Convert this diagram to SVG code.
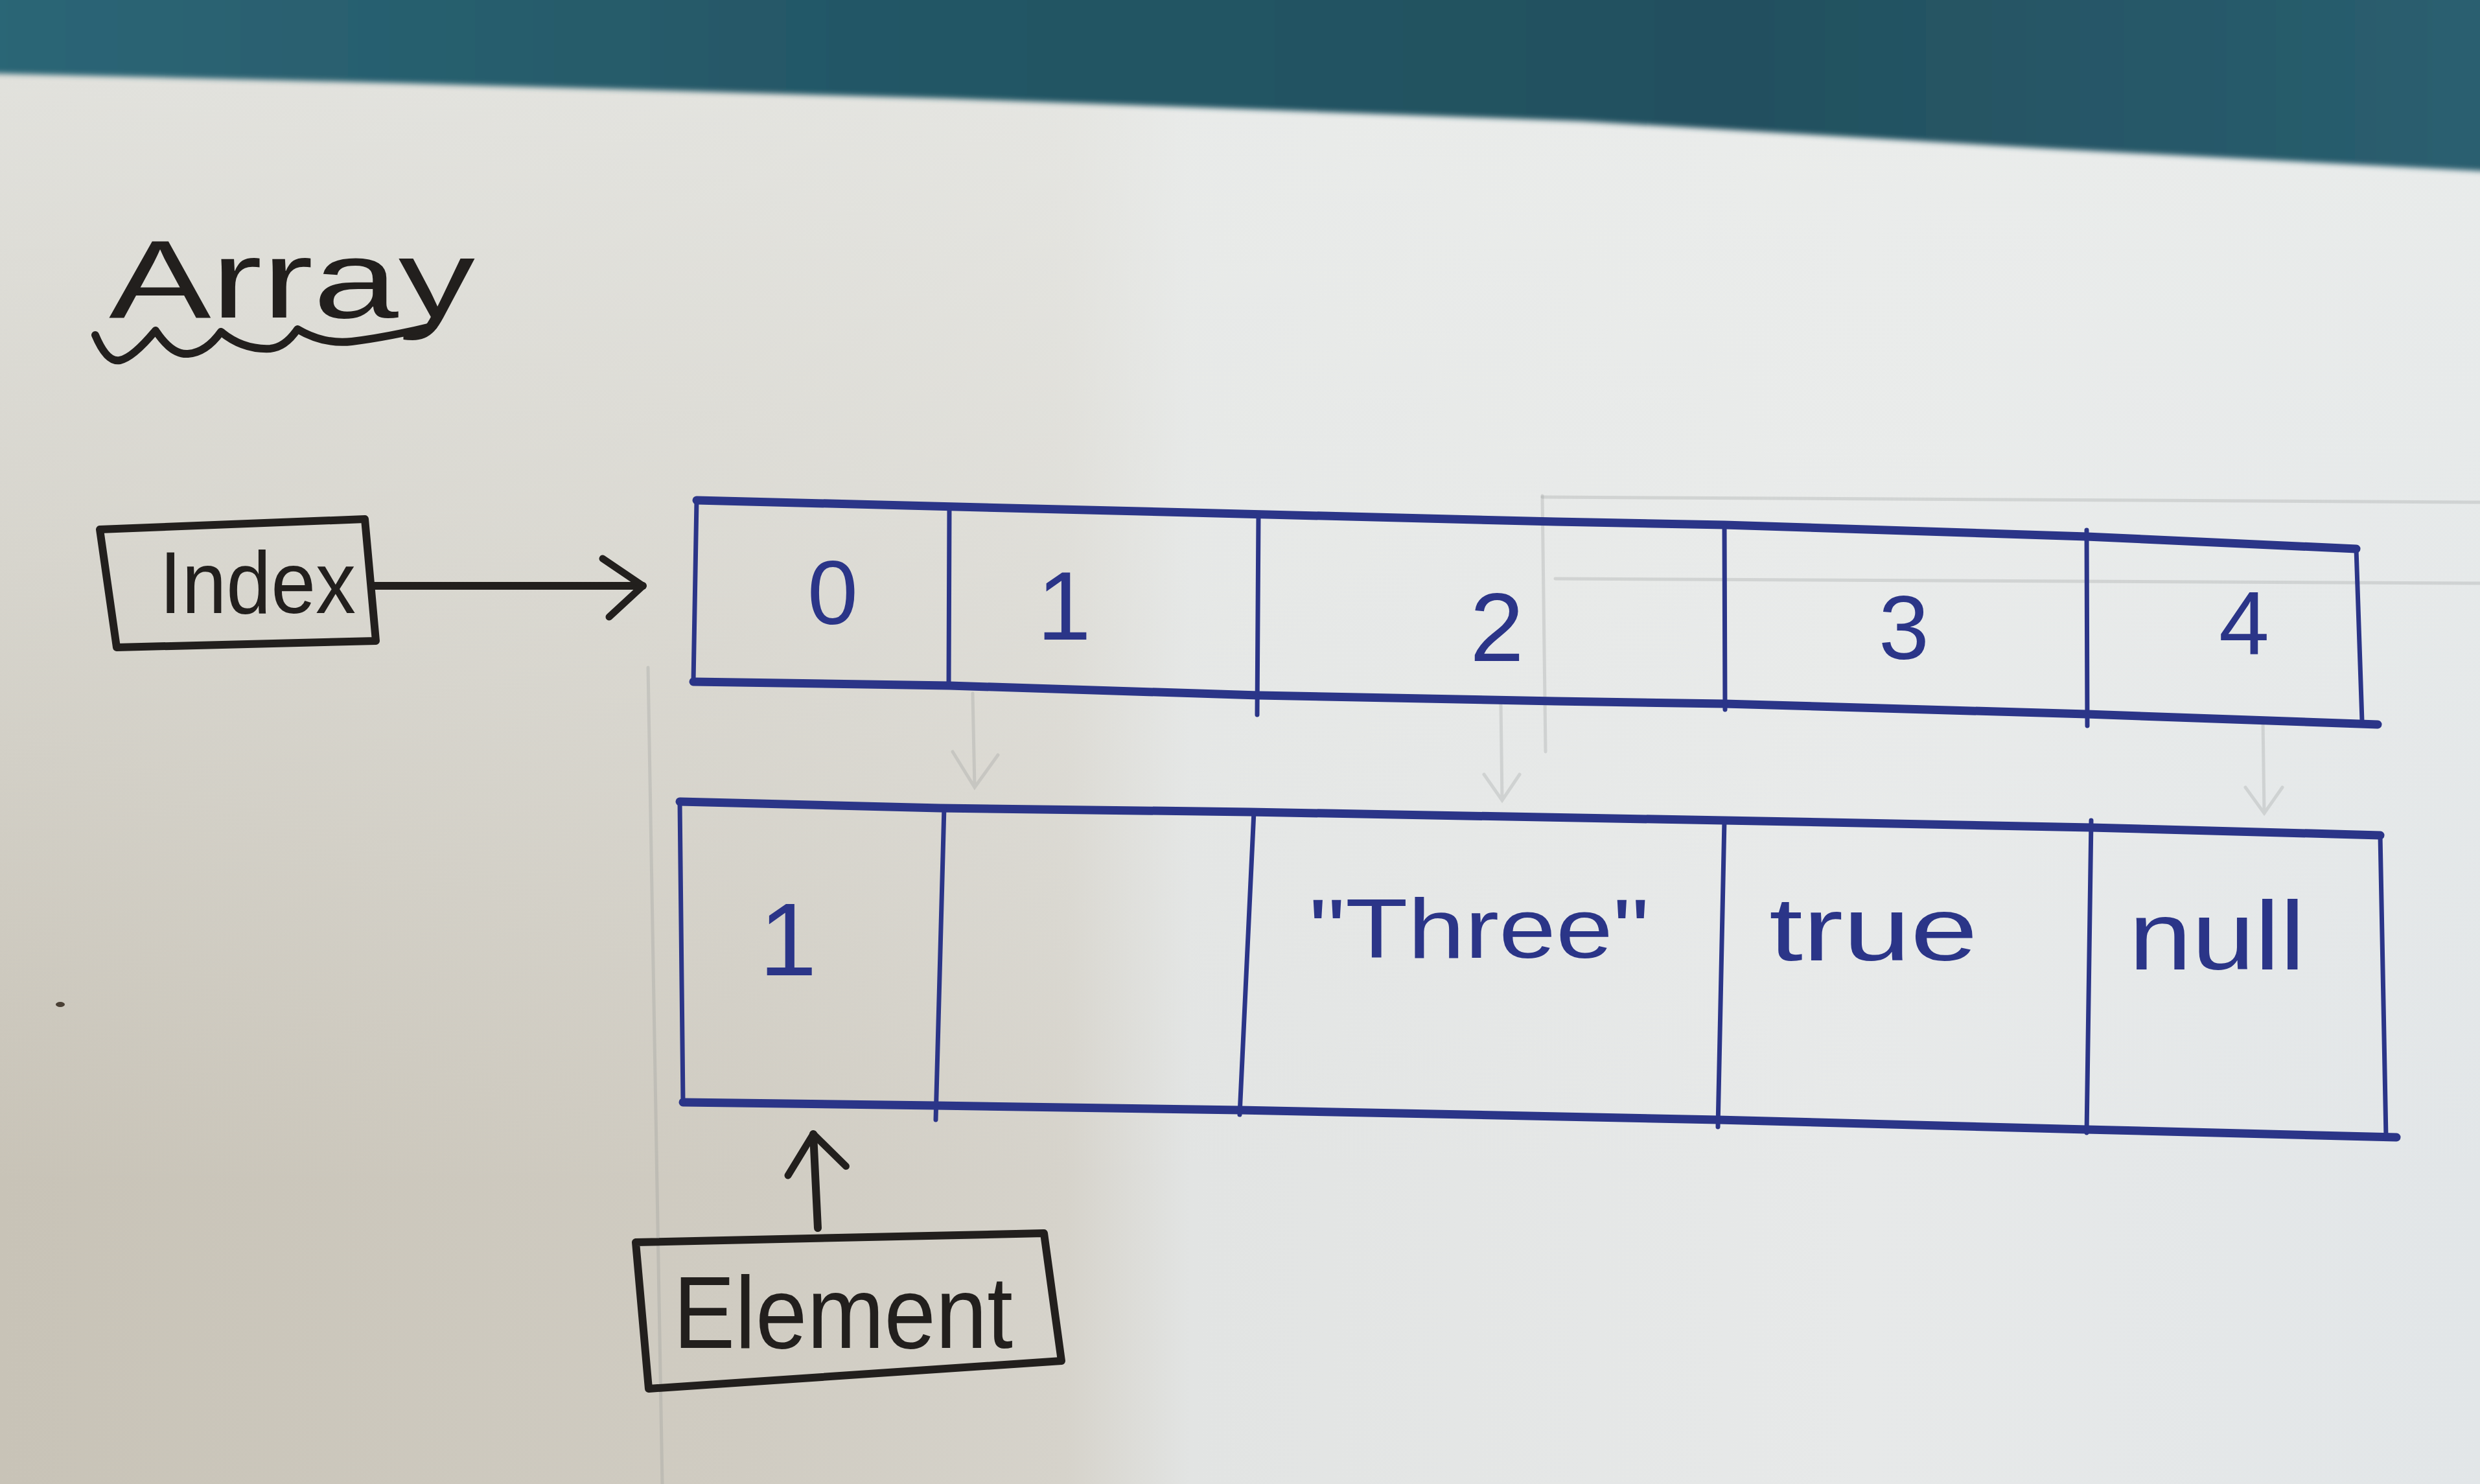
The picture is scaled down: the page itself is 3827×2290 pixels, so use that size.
<svg xmlns="http://www.w3.org/2000/svg" width="3827" height="2290" viewBox="0 0 3827 2290">
<style>
.blue{fill:none;stroke:#2b3588;stroke-linecap:round;stroke-linejoin:round}
.thick{stroke-width:13}
.thin{stroke-width:7}
.black{fill:none;stroke:#221f1d;stroke-width:12;stroke-linecap:round;stroke-linejoin:round}
.pencil{fill:none;stroke:#8d8f8e;stroke-width:5;stroke-linecap:round;opacity:0.25}
.tb{font-family:"Liberation Sans",Arial,sans-serif;fill:#2b3588}
.tk{font-family:"Liberation Sans",Arial,sans-serif;fill:#221f1d}
</style>
<defs>
<linearGradient id="paper" x1="0" y1="0" x2="1" y2="0">
<stop offset="0" stop-color="#c8c3b7"/>
<stop offset="0.3" stop-color="#d0ccc2"/>
<stop offset="0.43" stop-color="#d6d3cb"/>
<stop offset="0.48" stop-color="#e2e4e3"/>
<stop offset="0.75" stop-color="#e7e9e9"/>
<stop offset="1" stop-color="#e2e6e8"/>
</linearGradient>
<linearGradient id="lift" x1="0" y1="0" x2="0" y2="1">
<stop offset="0" stop-color="#eceeec" stop-opacity="0.75"/>
<stop offset="0.45" stop-color="#eceeec" stop-opacity="0.35"/>
<stop offset="0.8" stop-color="#eceeec" stop-opacity="0"/>
</linearGradient>
<linearGradient id="teal" x1="0" y1="0" x2="1" y2="0">
<stop offset="0" stop-color="#2c6676"/>
<stop offset="0.35" stop-color="#245766"/>
<stop offset="0.7" stop-color="#23505f"/>
<stop offset="1" stop-color="#2a5f70"/>
</linearGradient>
<filter id="soft" x="-5%" y="-5%" width="110%" height="120%"><feGaussianBlur stdDeviation="4"/></filter>
<marker id="openhead" viewBox="-80 -60 100 120" markerWidth="100" markerHeight="120" refX="0" refY="0" orient="auto" markerUnits="userSpaceOnUse">
<path d="M-62,-42 L0,0 L-52,48" fill="none" stroke="#221f1d" stroke-width="11" stroke-linecap="round" stroke-linejoin="round"/>
</marker>
</defs>

<g id="background">
<rect x="0" y="0" width="3827" height="2290" fill="url(#paper)"/>
<rect x="0" y="0" width="3827" height="2290" fill="url(#lift)"/>
<path d="M-20,-20 L3850,-20 L3850,265 L3173,230 L2441,187 L1464,152 L610,128 L-20,113 Z" fill="url(#teal)" filter="url(#soft)"/>
<ellipse cx="93" cy="1550" rx="7" ry="4" fill="#4a4035"/>
</g>

<g id="pencil-marks">
<path class="pencil" d="M1000,1030 L1022,2290"/>
<path class="pencil" d="M2380,765 L2385,1160"/>
<path class="pencil" d="M2380,767 L3827,775"/>
<path class="pencil" d="M2400,893 L3827,900" opacity="0.15"/>
<path class="pencil" d="M1501,1070 L1504,1215 M1470,1160 L1504,1215 L1540,1165"/>
<path class="pencil" d="M2316,1085 L2318,1235 M2290,1195 L2318,1235 L2345,1195"/>
<path class="pencil" d="M3492,1110 L3494,1255 M3465,1215 L3494,1255 L3522,1215"/>
</g>

<g id="title">
<text class="tk" x="168" y="490" font-size="170" textLength="565" lengthAdjust="spacingAndGlyphs">Array</text>
<path class="black" stroke-width="10" d="M147,517 Q165,560 185,556 Q205,552 240,510 Q265,548 290,546 Q318,544 341,512 Q375,540 417,538 Q440,536 459,508 Q500,532 543,527 Q600,520 669,503"/>
</g>

<g id="index-node">
<path class="black" d="M154,817 L563,801 L580,989 L180,999 Z"/>
<text class="tk" x="246" y="946" font-size="135" textLength="303" lengthAdjust="spacingAndGlyphs">Index</text>
</g>

<g id="index-row">
<path class="blue thick" d="M1075,772 L2400,805 L2661,810 L3220,828 L3636,847"/>
<path class="blue thick" d="M1070,1052 L1465,1058 L1942,1073 L2400,1082 L2661,1086 L3220,1102 L3669,1118"/>
<path class="blue thin" d="M1075,772 L1070,1052"/>
<path class="blue thin" d="M1465,783 L1464,1060"/>
<path class="blue thin" d="M1942,795 L1940,1103"/>
<path class="blue thin" d="M2661,808 L2662,1095"/>
<path class="blue thin" d="M3220,818 L3221,1120"/>
<path class="blue thin" d="M3636,847 L3645,1113"/>
<text class="tb" x="1285" y="963" font-size="140" text-anchor="middle">0</text>
<text class="tb" x="1642" y="987" font-size="150" text-anchor="middle">1</text>
<text class="tb" x="2310" y="1020" font-size="150" text-anchor="middle">2</text>
<text class="tb" x="2938" y="1017" font-size="140" text-anchor="middle">3</text>
<text class="tb" x="3463" y="1010" font-size="140" text-anchor="middle">4</text>
</g>

<g id="element-row">
<path class="blue thick" d="M1049,1237 L1450,1247 L1928,1253 L2661,1266 L3227,1277 L3673,1289"/>
<path class="blue thick" d="M1054,1701 L1444,1706 L1913,1713 L2651,1728 L3220,1743 L3698,1755"/>
<path class="blue thin" d="M1049,1237 L1054,1701"/>
<path class="blue thin" d="M1457,1245 L1444,1728"/>
<path class="blue thin" d="M1935,1252 L1913,1720"/>
<path class="blue thin" d="M2661,1266 L2651,1739"/>
<path class="blue thin" d="M3227,1266 L3220,1748"/>
<path class="blue thin" d="M3673,1289 L3682,1755"/>
<text class="tb" x="1216" y="1505" font-size="160" text-anchor="middle">1</text>
<text class="tb" x="2020" y="1478" font-size="130" textLength="525" lengthAdjust="spacingAndGlyphs">"Three"</text>
<text class="tb" x="2730" y="1482" font-size="140" textLength="322" lengthAdjust="spacingAndGlyphs">true</text>
<text class="tb" x="3285" y="1496" font-size="150" textLength="272" lengthAdjust="spacingAndGlyphs">null</text>
</g>

<g id="element-node">
<path class="black" d="M981,1917 L1611,1903 L1638,2100 L1001,2143 Z"/>
<text class="tk" x="1039" y="2080" font-size="158" textLength="524" lengthAdjust="spacingAndGlyphs">Element</text>
</g>

<g id="connectors">
<path class="black" stroke-width="9" d="M577,904 L992,904" marker-end="url(#openhead)"/>
<path class="black" stroke-width="10" d="M1262,1895 L1255,1750" marker-end="url(#openhead)"/>
</g>
</svg>
